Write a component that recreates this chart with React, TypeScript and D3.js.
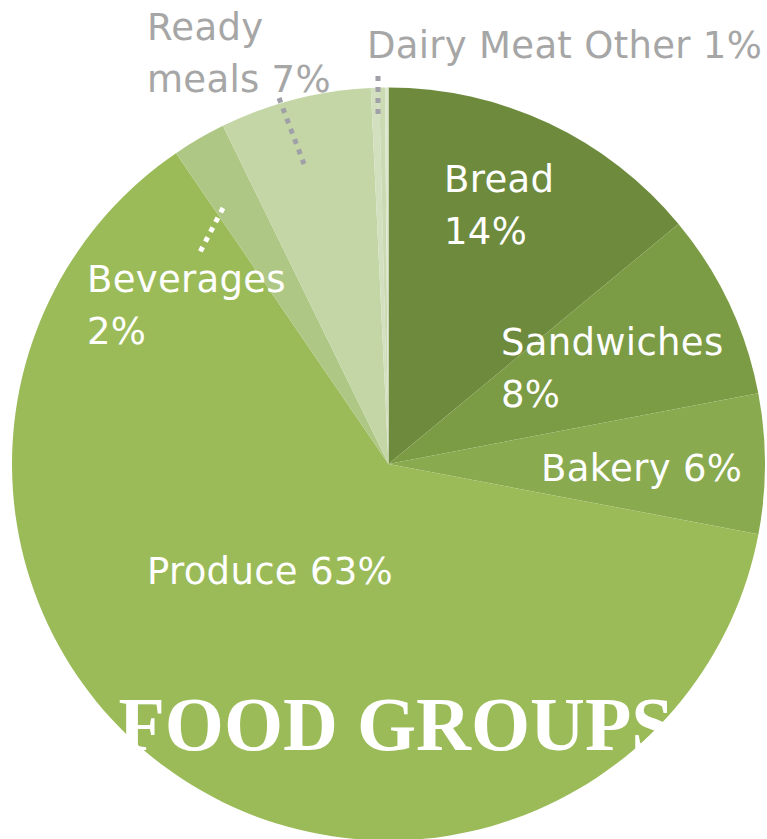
import React from "react";
import * as d3 from "d3";

const categories = ["Bread", "Sandwiches", "Bakery", "Produce", "Beverages", "Ready meals", "Dairy", "Meat", "Other"];
const shares = [14, 8, 6, 62.5, 2.3, 6.5, 0.35, 0.25, 0.15];
const colors = ["#6e8b3d", "#7c9b45", "#89aa4f", "#9bbb59", "#afc785", "#c4d6a6", "#d3e0bf", "#cbdab3", "#dde7cd"];

const W = 767;
const H = 839;
const cx = 388.5;
const cy = 464;
const R = 376.5;

// text labels: lines, anchor, colour
const labels = [
  { lines: ["Bread", "14%"], x: 444, y: 192, fill: "#fff" },
  { lines: ["Sandwiches", "8%"], x: 501, y: 355, fill: "#fff" },
  { lines: ["Bakery 6%"], x: 541, y: 481, fill: "#fff" },
  { lines: ["Produce 63%"], x: 147, y: 584, fill: "#fff" },
  { lines: ["Beverages", "2%"], x: 87, y: 292, fill: "#fff" },
  { lines: ["Ready", "meals 7%"], x: 147, y: 40, fill: "#a6a6a6" },
  { lines: ["Dairy Meat Other 1%"], x: 367, y: 58, fill: "#a6a6a6" },
];

const leaders = [
  { x1: 223, y1: 208, x2: 199, y2: 254, stroke: "#fff" },
  { x1: 279, y1: 98, x2: 304, y2: 164, stroke: "#a0a0a8" },
  { x1: 378, y1: 76, x2: 378, y2: 119, stroke: "#a0a0a8" },
];

export default function App() {
  const pie = d3.pie<number>().sort(null).value((d) => d);
  const arcs = pie(shares);
  const arc = d3.arc<d3.PieArcDatum<number>>().innerRadius(0).outerRadius(R);

  return (
    <svg
      width={W}
      height={H}
      style={{ position: "absolute", left: 0, top: 0, background: "#fff" }}
    >
      <g transform={`translate(${cx},${cy})`}>
        {arcs.map((a, i) => (
          <path key={categories[i]} d={arc(a) || ""} fill={colors[i]} />
        ))}
      </g>
      {leaders.map((l, i) => (
        <line
          key={i}
          x1={l.x1}
          y1={l.y1}
          x2={l.x2}
          y2={l.y2}
          stroke={l.stroke}
          strokeWidth={5}
          strokeDasharray="5,6"
        />
      ))}
      {labels.map((lb, i) => (
        <text
          key={i}
          x={lb.x}
          y={lb.y}
          fill={lb.fill}
          fontFamily="DejaVu Sans, Verdana, sans-serif"
          fontSize={37}
          letterSpacing={0.3}
        >
          {lb.lines.map((t, j) => (
            <tspan key={j} x={lb.x} dy={j === 0 ? 0 : 52}>
              {t}
            </tspan>
          ))}
        </text>
      ))}
      <text
        x={396}
        y={750}
        textAnchor="middle"
        fill="#fff"
        fontFamily="Liberation Serif, Times New Roman, serif"
        fontWeight="bold"
        fontSize={76}
      >
        FOOD GROUPS
      </text>
    </svg>
  );
}
